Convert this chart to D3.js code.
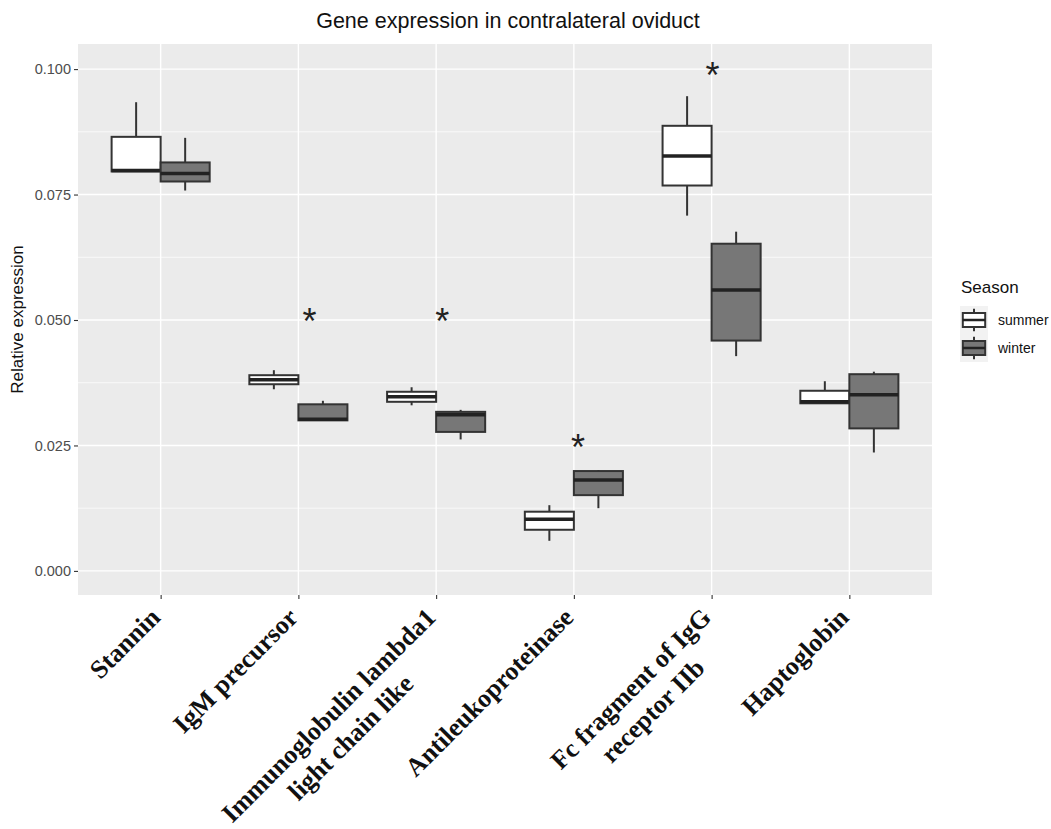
<!DOCTYPE html>
<html>
<head>
<meta charset="utf-8">
<script src="https://cdn.jsdelivr.net/npm/d3@7"></script>
<style>
  body { margin: 0; background: #fff; }
  svg { display: block; }
</style>
</head>
<body>
<script>

// Boxplot of relative gene expression, summer vs winter

const width = 1051;
const height = 829;
const margin = {left: 78, right: 119, top: 44, bottom: 234};

// Categories on the x axis (label lines)
const genes = ["Stannin", "IgM precursor", "Immunoglobulin lambda1\nlight chain like",
               "Antileukoproteinase", "Fc fragment of IgG\nreceptor IIb", "Haptoglobin"];

const seasons = ["summer", "winter"];

// five number summaries: [min, q1, median, q3, max]
const summerStats = [
  [0.0796, 0.0796, 0.0798, 0.0865, 0.0934],
  [0.0362, 0.0372, 0.0381, 0.0390, 0.0400],
  [0.0330, 0.0337, 0.0347, 0.0357, 0.0366],
  [0.0060, 0.0082, 0.0103, 0.0118, 0.0131],
  [0.0708, 0.0768, 0.0827, 0.0887, 0.0946],
  [0.0333, 0.0334, 0.0337, 0.0359, 0.0378]
];
const winterStats = [
  [0.0758, 0.0776, 0.0792, 0.0814, 0.0863],
  [0.0299, 0.0300, 0.0302, 0.0332, 0.0339],
  [0.0262, 0.0277, 0.0311, 0.0317, 0.0321],
  [0.0125, 0.0151, 0.0181, 0.0199, 0.0201],
  [0.0428, 0.0459, 0.0560, 0.0652, 0.0676],
  [0.0236, 0.0284, 0.0351, 0.0392, 0.0397]
];

// significance stars (gene index, small x shift in category units, height)
const starGenes = [1, 2, 3, 4];
const starShift = [0.08, 0.045, 0.03, 0.007];
const starY = [0.0508, 0.0508, 0.0257, 0.0998];

const yTicks = [0, 0.025, 0.05, 0.075, 0.1];
const yMinor = [0.0125, 0.0375, 0.0625, 0.0875];

const fills = {summer: "#ffffff", winter: "#777777"};

const svg = d3.select("body")
  .append("svg")
  .attr("width", width)
  .attr("height", height);

/*
  Scales
*/
const panelR = width - margin.right;
const panelB = height - margin.bottom;

const xScale = d3.scalePoint()
  .domain(d3.range(genes.length))
  .range([margin.left, panelR])
  .padding(0.6);

const yScale = d3.scaleLinear()
  .domain([-0.0048, 0.105])
  .range([panelB, margin.top]);

const step = xScale.step();
const boxW = step * 0.356;

// panel background
svg.append("rect")
  .attr("x", margin.left).attr("y", margin.top)
  .attr("width", panelR - margin.left)
  .attr("height", panelB - margin.top)
  .attr("fill", "#ebebeb");

// grid lines
svg.append("g").selectAll("line")
  .data(yMinor).enter().append("line")
  .attr("x1", margin.left).attr("x2", panelR)
  .attr("y1", d => yScale(d)).attr("y2", d => yScale(d))
  .attr("stroke", "#fff").attr("stroke-width", 0.7);

svg.append("g").selectAll("line")
  .data(yTicks).enter().append("line")
  .attr("x1", margin.left).attr("x2", panelR)
  .attr("y1", d => yScale(d)).attr("y2", d => yScale(d))
  .attr("stroke", "#fff").attr("stroke-width", 1.4);

svg.append("g").selectAll("line")
  .data(d3.range(genes.length)).enter().append("line")
  .attr("x1", d => xScale(d)).attr("x2", d => xScale(d))
  .attr("y1", margin.top).attr("y2", panelB)
  .attr("stroke", "#fff").attr("stroke-width", 1.4);

/*
  Axes
*/
const yAxis = svg.append("g")
  .attr("transform", `translate(${margin.left},0)`)
  .call(d3.axisLeft(yScale).tickValues(yTicks).tickFormat(d3.format(".3f")).tickSize(4).tickPadding(3));
yAxis.select(".domain").remove();
yAxis.selectAll("line").attr("stroke", "#333").attr("stroke-width", 1.1);
yAxis.selectAll("text")
  .attr("fill", "#4d4d4d")
  .style("font-family", "Liberation Sans, Arial, sans-serif")
  .style("font-size", "14.5px");

const xAxis = svg.append("g")
  .attr("transform", `translate(0,${panelB})`)
  .call(d3.axisBottom(xScale).tickSize(4).tickFormat(""));
xAxis.select(".domain").remove();
xAxis.selectAll("line").attr("stroke", "#333").attr("stroke-width", 1.1);

// rotated, bold serif gene names; extra lines centred under the first one
const xLabFont = 26;
const xLabels = svg.append("g");
genes.forEach(function(g, i) {
  const lines = g.split("\n");
  const grp = xLabels.append("g")
    .attr("transform", `translate(${xScale(i) + 1},${panelB + 24}) rotate(-45)`);
  const texts = lines.map((ln, k) => grp.append("text")
      .attr("y", k * xLabFont * 1.2)
      .attr("text-anchor", "middle")
      .style("font-family", "Liberation Serif, Times New Roman, serif")
      .style("font-weight", "bold")
      .style("font-size", xLabFont + "px")
      .attr("fill", "#111")
      .text(ln));
  const w = d3.max(texts, t => t.node().getComputedTextLength());
  texts.forEach(t => t.attr("x", -w / 2));
});

// axis title and plot title
svg.append("text")
  .attr("transform", `translate(23,${(margin.top + panelB) / 2}) rotate(-90)`)
  .attr("text-anchor", "middle")
  .style("font-family", "Liberation Sans, Arial, sans-serif")
  .style("font-size", "17px")
  .attr("fill", "#111")
  .text("Relative expression");

svg.append("text")
  .attr("x", (margin.left + panelR) / 2 + 3)
  .attr("y", 28)
  .attr("text-anchor", "middle")
  .style("font-family", "Liberation Sans, Arial, sans-serif")
  .style("font-size", "21.5px")
  .attr("fill", "#111")
  .text("Gene expression in contralateral oviduct");

/*
  Boxes
*/
const boxData = [];
genes.forEach(function(g, i) {
  boxData.push({gene: i, season: "summer", s: summerStats[i], off: -0.5});
  boxData.push({gene: i, season: "winter", s: winterStats[i], off: 0.5});
});

const boxes = svg.append("g").selectAll("g")
  .data(boxData).enter().append("g")
  .attr("transform", d => `translate(${xScale(d.gene) + d.off * boxW},0)`);

// whiskers
boxes.append("line")
  .attr("y1", d => yScale(d.s[0])).attr("y2", d => yScale(d.s[1]))
  .attr("stroke", "#333").attr("stroke-width", 2);
boxes.append("line")
  .attr("y1", d => yScale(d.s[3])).attr("y2", d => yScale(d.s[4]))
  .attr("stroke", "#333").attr("stroke-width", 2);

boxes.append("rect")
  .attr("x", -boxW / 2)
  .attr("width", boxW)
  .attr("y", d => yScale(d.s[3]))
  .attr("height", d => yScale(d.s[1]) - yScale(d.s[3]))
  .attr("fill", d => fills[d.season])
  .attr("stroke", "#333").attr("stroke-width", 2);

// median
boxes.append("line")
  .attr("x1", -boxW / 2).attr("x2", boxW / 2)
  .attr("y1", d => yScale(d.s[2])).attr("y2", d => yScale(d.s[2]))
  .attr("stroke", "#222").attr("stroke-width", 3.5);

// stars
const starSize = 36;
svg.append("g").selectAll("text")
  .data(starGenes).enter().append("text")
  .attr("x", (d, i) => xScale(d) + starShift[i] * step)
  .attr("y", (d, i) => yScale(starY[i]) + starSize * 0.5)
  .attr("text-anchor", "middle")
  .style("font-family", "Liberation Sans, Arial, sans-serif")
  .style("font-size", starSize + "px")
  .attr("fill", "#222")
  .text("*");

/*
  Legend
*/
const legend = svg.append("g").attr("transform", "translate(960,0)");
legend.append("text")
  .attr("x", 1).attr("y", 293)
  .style("font-family", "Liberation Sans, Arial, sans-serif")
  .style("font-size", "17px")
  .attr("fill", "#111")
  .text("Season");

const keySize = 28;
const keys = legend.selectAll(".key")
  .data(seasons).enter().append("g")
  .attr("class", "key")
  .attr("transform", (d, i) => `translate(0,${306 + i * keySize})`);

keys.append("rect")
  .attr("width", keySize).attr("height", keySize)
  .attr("fill", "#f2f2f2");
keys.append("line")
  .attr("x1", keySize / 2).attr("x2", keySize / 2)
  .attr("y1", keySize * 0.1).attr("y2", keySize * 0.9)
  .attr("stroke", "#333").attr("stroke-width", 2);
keys.append("rect")
  .attr("x", keySize * 0.1).attr("y", keySize * 0.25)
  .attr("width", keySize * 0.8).attr("height", keySize * 0.5)
  .attr("fill", d => fills[d])
  .attr("stroke", "#333").attr("stroke-width", 2);
keys.append("line")
  .attr("x1", keySize * 0.1).attr("x2", keySize * 0.9)
  .attr("y1", keySize / 2).attr("y2", keySize / 2)
  .attr("stroke", "#222").attr("stroke-width", 2.5);
keys.append("text")
  .attr("x", keySize + 10).attr("y", keySize / 2 + 5)
  .style("font-family", "Liberation Sans, Arial, sans-serif")
  .style("font-size", "14px")
  .attr("fill", "#111")
  .text(d => d);

</script>
</body>
</html>
